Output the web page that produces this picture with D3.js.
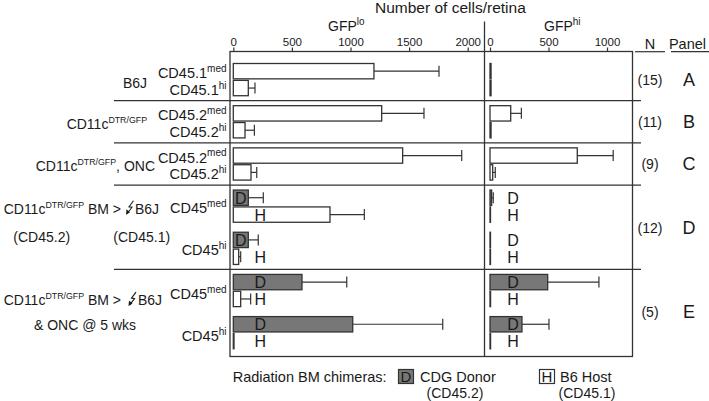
<!DOCTYPE html>
<html><head><meta charset="utf-8">
<script src="https://cdn.jsdelivr.net/npm/d3@7"></script>
<style>body{margin:0;background:#fff}svg{display:block}text{font-family:"Liberation Sans",Arial,sans-serif;fill:#1a1a1a}</style>
</head><body><svg id="c" width="709" height="401"></svg>
<script>
// ---- data ----
const groups = ["A","B","C","D","E"];
const nValues = ["(15)","(11)","(9)","(12)","(5)"];
const rowGroup  = ["A","A","B","B","C","C","D","D","D","D","E","E","E","E"];
const rowSubset = ["med","hi","med","hi","med","hi","med","med","hi","hi","med","med","hi","hi"];
const rowMarker = ["CD45.1","CD45.1","CD45.2","CD45.2","CD45.2","CD45.2","CD45","CD45","CD45","CD45","CD45","CD45","CD45","CD45"];
const rowSource = ["","","","","","","D","H","D","H","D","H","D","H"];
const gfpLoMean = [1200,128,1266,100,1445,151,128,825,128,46,586,63,1019,6];
const gfpLoSD   = [555,57,361,80,504,49,128,293,85,17,382,85,768,0];
const gfpHiMean = [9,9,177,9,746,23,14,4,4,4,493,5,273,5];
const gfpHiSD   = [0,0,91,0,307,22,14,0,0,0,438,0,231,0];
const loTicks = [0,500,1000,1500,2000];
const hiTicks = [0,500,1000];

// ---- layout ----
const svg = d3.select("#c");
const ink = "#333";
const donorFill = "#777";
const boxL = 230, boxR = 632.5, boxT = 51.5, boxB = 356.5, divX = 484.5;

// slot positions derived from structure
const slots = [];
let s = 0;
rowGroup.forEach((g,i)=>{
  if(i>0){
    if(g!==rowGroup[i-1]) s += 1.5;
    else if(rowSubset[i]!==rowSubset[i-1] && rowSource[i]) s += 1.5;
    else s += 1;
  }
  slots.push(s);
});
const y = d3.scaleLinear().domain([-1.166,16.91]).range([boxT,boxB]);
const bh = y(0.91)-y(0);
const xLo = d3.scaleLinear().domain([0,2000]).range([233.3,467.7]);
const xHi = d3.scaleLinear().domain([0,1000]).range([490,607]);

// axes
function axis(scale, ticks){
  const g = svg.append("g").attr("transform",`translate(0,${boxT})`)
    .call(d3.axisTop(scale).tickValues(ticks).tickSize(4).tickPadding(2).tickFormat(d3.format("d")));
  g.select(".domain").remove();
  g.selectAll(".tick line").attr("stroke",ink).attr("stroke-width",1.2);
  g.selectAll(".tick text").attr("font-size",11.5).attr("fill","#1a1a1a")
    .attr("font-family",'"Liberation Sans",Arial,sans-serif');
}
axis(xLo, loTicks);
axis(xHi, hiTicks);

// titles
svg.append("text").attr("x",375).attr("y",13).attr("font-size",15.5).text("Number of cells/retina");
function supText(x,yy,main,sup,size,supSize,anchor){
  const t = svg.append("text").attr("x",x).attr("y",yy).attr("font-size",size).attr("text-anchor",anchor||"start");
  t.append("tspan").text(main);
  t.append("tspan").attr("font-size",supSize).attr("dy",-size*0.42).text(sup);
  return t;
}
supText(328,31,"GFP","lo",14,10);
supText(544,30.5,"GFP","hi",14,10);

// group separators
const groupSlots = groups.map(g=>slots.filter((d,i)=>rowGroup[i]===g));
for(let k=1;k<groups.length;k++){
  const prev = d3.max(groupSlots[k-1]), next = d3.min(groupSlots[k]);
  const yy = y((prev+next)/2);
  svg.append("line").attr("x1",114).attr("x2",641).attr("y1",yy).attr("y2",yy).attr("stroke",ink).attr("stroke-width",1.2);
}

// bars
function drawBars(xs, mean, sd, panel){
  const g = svg.append("g");
  rowGroup.forEach((grp,i)=>{
    const yc = y(slots[i]);
    const x0 = xs(0), x1 = xs(mean[i]);
    const fill = rowSource[i]==="D" ? donorFill : "#fff";
    if(sd[i]>0){
      const xe = xs(mean[i]+sd[i]);
      g.append("line").attr("x1",x1).attr("x2",xe).attr("y1",yc).attr("y2",yc).attr("stroke",ink).attr("stroke-width",1.2);
      g.append("line").attr("x1",xe).attr("x2",xe).attr("y1",yc-5.5).attr("y2",yc+5.5).attr("stroke",ink).attr("stroke-width",1.2);
    }
    g.append("rect").attr("x",x0).attr("y",yc-bh/2).attr("width",Math.max(0.5,x1-x0)).attr("height",bh)
      .attr("fill",fill).attr("stroke",ink).attr("stroke-width",1.3);
    if(rowSource[i]){
      let lx;
      if(panel==="lo" && rowSource[i]==="D" && (x1-x0)<20) lx = (x0+x1)/2;
      else lx = x0 + (panel==="lo"?27:23);
      g.append("text").attr("x",lx).attr("y",yc+6).attr("text-anchor","middle").attr("font-size",16).text(rowSource[i]);
    }
  });
}
drawBars(xLo, gfpLoMean, gfpLoSD, "lo");
drawBars(xHi, gfpHiMean, gfpHiSD, "hi");

// frame
svg.append("rect").attr("x",boxL).attr("y",boxT).attr("width",boxR-boxL).attr("height",boxB-boxT)
  .attr("fill","none").attr("stroke",ink).attr("stroke-width",1.3);
svg.append("line").attr("x1",divX).attr("x2",divX).attr("y1",21.5).attr("y2",boxB).attr("stroke",ink).attr("stroke-width",1.3);

// row labels
rowGroup.forEach((g,i)=>{
  if(!rowSource[i]) supText(226.5, y(slots[i])+7, rowMarker[i], rowSubset[i], 14.5, 10, "end");
  else if(rowSource[i]==="D"){
    const yc = (y(slots[i])+y(slots[i+1]))/2;
    supText(226.5, yc+(g==="E"?8.5:6.8), rowMarker[i], rowSubset[i], 14.5, 10, "end");
  }
});

// group labels
const gc = groupSlots.map(a=>y((d3.min(a)+d3.max(a))/2));
svg.append("text").attr("x",147).attr("y",gc[0]+8).attr("text-anchor","end").attr("font-size",14).text("B6J");
supText(147,gc[1]+7.4,"CD11c","DTR/GFP",14,8.8,"end");
{
  const t = supText(155,gc[2]+6.8,"CD11c","DTR/GFP",14,8.8,"end");
  t.append("tspan").attr("dy",14*0.42).text(", ONC");
}
function zig(x,yb){
  // zigzag radiation arrow pointing down-left, bounding box ~9x14
  svg.append("path").attr("d",`M${x+8.5},${yb-13} L${x+4},${yb-7} L${x+7},${yb-6.5} L${x+2},${yb}`)
    .attr("fill","none").attr("stroke","#1a1a1a").attr("stroke-width",1.1);
  svg.append("path").attr("d",`M${x+1},${yb+1} L${x+1.5},${yb-4.5} L${x+5},${yb-1.5} Z`).attr("fill","#1a1a1a");
}
function chimeraLine(yb,arrowX,b6x){
  const t = supText(121,yb,"CD11c","DTR/GFP",14,8.8,"end");
  t.append("tspan").attr("dy",14*0.42).text(" BM >");
  zig(arrowX,yb);
  svg.append("text").attr("x",b6x).attr("y",yb).attr("font-size",14).text("B6J");
}
const yD = gc[3]-13.5;
chimeraLine(yD,125,135);
svg.append("text").attr("x",41.7).attr("y",yD+28.3).attr("text-anchor","middle").attr("font-size",14).text("(CD45.2)");
svg.append("text").attr("x",113.3).attr("y",yD+28.3).attr("font-size",14).text("(CD45.1)");
const yE = gc[4]-6.5;
chimeraLine(yE,127.5,138);
svg.append("text").attr("x",85).attr("y",yE+24.5).attr("text-anchor","middle").attr("font-size",14).text("& ONC @ 5 wks");

// N and panel columns
svg.append("text").attr("x",650).attr("y",49).attr("text-anchor","middle").attr("font-size",14.5).text("N");
svg.append("text").attr("x",687.5).attr("y",49).attr("text-anchor","middle").attr("font-size",14.5).text("Panel");
svg.append("line").attr("x1",635).attr("x2",665).attr("y1",51.7).attr("y2",51.7).attr("stroke",ink).attr("stroke-width",1.2);
svg.append("line").attr("x1",671).attr("x2",709).attr("y1",51.7).attr("y2",51.7).attr("stroke",ink).attr("stroke-width",1.2);
groups.forEach((g,k)=>{
  svg.append("text").attr("x",650).attr("y",gc[k]+5.5).attr("text-anchor","middle").attr("font-size",14).text(nValues[k]);
  svg.append("text").attr("x",689).attr("y",gc[k]+6.5).attr("text-anchor","middle").attr("font-size",18).text(g);
});

// legend
svg.append("text").attr("x",232.7).attr("y",381.5).attr("font-size",14.5).text("Radiation BM chimeras:");
svg.append("rect").attr("x",398.5).attr("y",369.5).attr("width",15).attr("height",14).attr("fill",donorFill).attr("stroke",ink).attr("stroke-width",1.2);
svg.append("text").attr("x",406).attr("y",382).attr("text-anchor","middle").attr("font-size",15).text("D");
svg.append("text").attr("x",420).attr("y",381.5).attr("font-size",14.5).text("CDG Donor");
svg.append("text").attr("x",455).attr("y",397.5).attr("text-anchor","middle").attr("font-size",14).text("(CD45.2)");
svg.append("rect").attr("x",539.5).attr("y",369.5).attr("width",15).attr("height",14).attr("fill","#fff").attr("stroke",ink).attr("stroke-width",1.2);
svg.append("text").attr("x",547).attr("y",382).attr("text-anchor","middle").attr("font-size",15).text("H");
svg.append("text").attr("x",560).attr("y",381.5).attr("font-size",14.5).text("B6 Host");
svg.append("text").attr("x",587).attr("y",397.5).attr("text-anchor","middle").attr("font-size",14).text("(CD45.1)");
</script></body></html>
